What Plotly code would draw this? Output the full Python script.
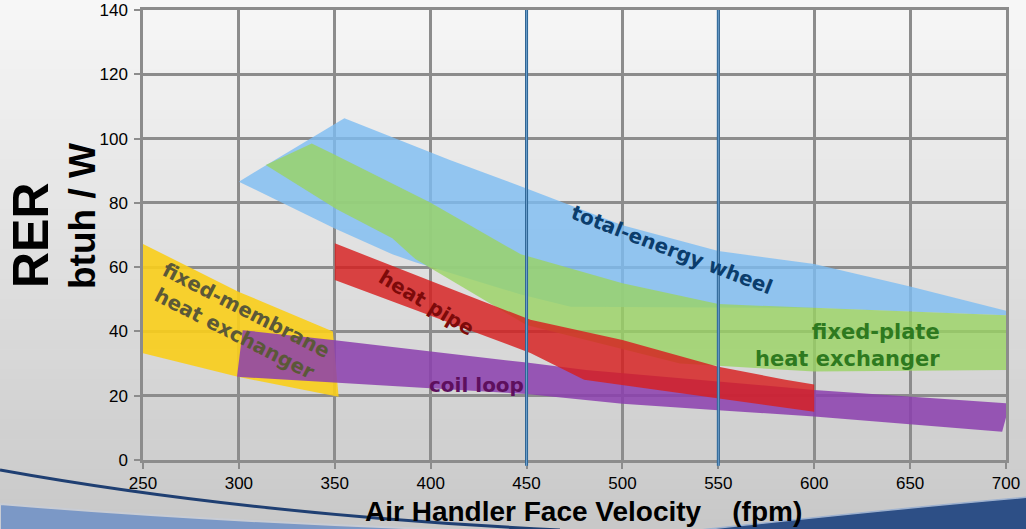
import plotly.graph_objects as go

# ---- data (x = fpm, y = RER btuh/W) ----
wheel_x_up = [300, 355, 410, 450, 500, 550, 600, 650, 700]
wheel_y_up = [86.6, 106.3, 93.3, 84.5, 73, 65, 61, 54, 46.4]
wheel_x_lo = [300, 350, 380, 392, 447, 473, 550, 600, 700]
wheel_y_lo = [86.6, 72, 64, 61.5, 51.5, 47.7, 47.5, 47.3, 45]

plate_x_up = [314, 338, 350, 400, 447, 500, 550, 600, 700]
plate_y_up = [91.8, 98.5, 95, 80, 64, 55, 48.5, 47.3, 45]
plate_x_lo = [314, 351, 380, 392, 450, 530, 600, 700]
plate_y_lo = [91.8, 78, 69, 62.5, 42, 30, 27.5, 28]

pipe_x_up = [350, 408, 452, 500, 550, 585, 600]
pipe_y_up = [67.4, 54, 43.6, 37.3, 29, 25, 23.5]
pipe_x_lo = [350, 452, 480, 600]
pipe_y_lo = [56, 33.3, 25, 15]

coil_x_up = [302, 349, 450, 481, 600, 702]
coil_y_up = [40.4, 37.3, 30.3, 28, 21.8, 17.6]
coil_x_lo = [299, 351, 450, 500, 550, 600, 698]
coil_y_lo = [25.9, 23.9, 20.5, 17.5, 15.5, 13.5, 8.8]

memb_x_up = [250, 300, 349]
memb_y_up = [67.2, 52.3, 40]
memb_x_lo = [250, 300, 352]
memb_y_lo = [33.2, 25.8, 19.7]

x_ticks = [250, 300, 350, 400, 450, 500, 550, 600, 650, 700]
y_ticks = [0, 20, 40, 60, 80, 100, 120, 140]
marked_x = [450, 550]

# ---- page geometry (pixels) ----
W, H = 1026, 529
L, R, T, B = 143, 20, 10, 69


def px(x):
    return (x - L) / (W - L - R)


def py(y):
    return (H - B - y) / (H - T - B)


def band(xu, yu, xl, yl):
    return xu + xl[::-1], yu + yl[::-1]


fig = go.Figure()

bands = [
    (memb_x_up, memb_y_up, memb_x_lo, memb_y_lo, "rgba(250,206,25,0.9)", "fixed-membrane"),
    (coil_x_up, coil_y_up, coil_x_lo, coil_y_lo, "rgba(139,62,174,0.85)", "coil loop"),
    (wheel_x_up, wheel_y_up, wheel_x_lo, wheel_y_lo, "rgba(125,189,242,0.8)", "total-energy wheel"),
    (plate_x_up, plate_y_up, plate_x_lo, plate_y_lo, "rgba(154,211,99,0.8)", "fixed-plate"),
    (pipe_x_up, pipe_y_up, pipe_x_lo, pipe_y_lo, "rgba(215,30,30,0.82)", "heat pipe"),
]
for xu, yu, xl, yl, col, name in bands:
    bx, by = band(xu, yu, xl, yl)
    fig.add_trace(go.Scatter(x=bx, y=by, fill="toself", fillcolor=col,
                             mode="lines", line=dict(width=0), name=name,
                             hoverinfo="skip", showlegend=False))

shapes = []
# background gradient
n = 53
for i in range(n):
    y0 = i * H / n
    y1 = (i + 1) * H / n
    f = (i + 0.5) / n
    g = int(round(247 - 47 * f))
    shapes.append(dict(type="rect", xref="paper", yref="paper", layer="below",
                       x0=px(0), x1=px(W), y0=py(y1 + 0.5), y1=py(y0),
                       fillcolor=f"rgb({g},{g},{g})", line=dict(width=0)))

# bottom decoration
shapes.append(dict(type="path", xref="paper", yref="paper", layer="below",
                   path=f"M {px(0)},{py(504)} Q {px(220)},{py(522)} {px(460)},{py(530)} "
                        f"L {px(0)},{py(530)} Z",
                   fillcolor="#7b98c6", line=dict(color="#c8ccd4", width=2)))
shapes.append(dict(type="path", xref="paper", yref="paper", layer="below",
                   path=f"M {px(700)},{py(530)} Q {px(880)},{py(510)} {px(1030)},{py(497)} "
                        f"L {px(1030)},{py(530)} Z",
                   fillcolor="#2d4f86", line=dict(color="#9fb2cf", width=1.5)))
shapes.append(dict(type="path", xref="paper", yref="paper", layer="below",
                   path=f"M {px(0)},{py(470)} Q {px(250)},{py(515)} {px(560)},{py(530)}",
                   line=dict(color="#1f3f72", width=3)))

# highlighted velocities
for xv in marked_x:
    shapes.append(dict(type="line", xref="x", yref="paper", x0=xv, x1=xv,
                       y0=-0.013, y1=1, line=dict(color="#2c6494", width=3), layer="above"))
    shapes.append(dict(type="line", xref="x", yref="paper", x0=xv, x1=xv,
                       y0=-0.013, y1=1, line=dict(color="#6e9fcc", width=1), layer="above"))

label_font = "DejaVu Sans, Verdana, sans-serif"
arial = "Liberation Sans, Arial, sans-serif"
annotations = [
    dict(x=526, y=65.3, text="<b>total-energy wheel</b>", textangle=21,
         font=dict(family=label_font, size=20, color="#0b3d6c")),
    dict(x=398, y=48.8, text="<b>heat pipe</b>", textangle=31,
         font=dict(family=label_font, size=20, color="#7d0a0a")),
    dict(x=424, y=23.3, text="<b>coil loop</b>", textangle=0,
         font=dict(family=label_font, size=20, color="#5e0f5e")),
    dict(x=301, y=42.9, text="<b>fixed-membrane<br>heat exchanger</b>", textangle=27,
         font=dict(family=label_font, size=20, color="#5b5838")),
    dict(x=666.5, y=35.5, text="<b>fixed-plate<br>heat exchanger</b>", textangle=0,
         xanchor="right", align="right",
         font=dict(family=label_font, size=21, color="#2e7a1f")),
    dict(xref="paper", yref="paper", x=px(583), y=py(511),
         text="<b>Air Handler Face Velocity\u00a0\u00a0\u00a0\u00a0(fpm)</b>",
         font=dict(family=arial, size=28, color="black")),
    dict(xref="paper", yref="paper", x=px(31), y=py(235), text="<b>RER</b>", textangle=-90,
         font=dict(family=arial, size=50, color="black")),
    dict(xref="paper", yref="paper", x=px(83), y=py(216), text="<b>btuh / W</b>", textangle=-90,
         font=dict(family=arial, size=37, color="black")),
]
for a in annotations:
    a.setdefault("xref", "x")
    a.setdefault("yref", "y")
    a.setdefault("xanchor", "center")
    a.setdefault("yanchor", "middle")
    a["showarrow"] = False

fig.update_layout(
    width=W, height=H,
    margin=dict(l=L, r=R, t=T, b=B, pad=0),
    paper_bgcolor="#dcdcdc",
    plot_bgcolor="rgba(0,0,0,0)",
    shapes=shapes,
    annotations=annotations,
    font=dict(family=arial, size=17, color="black"),
    showlegend=False,
)
axis_style = dict(showgrid=True, gridcolor="#8c8c8c", gridwidth=2.5, showline=True,
                  linecolor="#8c8c8c", linewidth=2.5, mirror=True, ticks="outside",
                  ticklen=6, tickcolor="#8c8c8c", tickwidth=2, zeroline=False,
                  automargin=False)
fig.update_xaxes(range=[250, 700], tickvals=x_ticks, **axis_style)
fig.update_yaxes(range=[0, 140], tickvals=y_ticks, ticklabelstandoff=3, **axis_style)

fig.write_html("out.html", config={"displayModeBar": False},
               post_script="document.body.style.margin='0';")
